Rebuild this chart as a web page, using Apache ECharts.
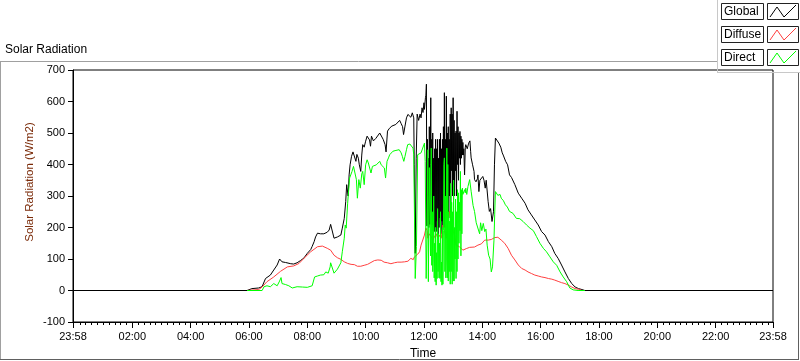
<!DOCTYPE html>
<html><head><meta charset="utf-8">
<script src="https://cdn.jsdelivr.net/npm/echarts@6/dist/echarts.min.js"></script>
<style>html,body{margin:0;padding:0;background:#fff}#c{width:800px;height:361px}</style>
</head><body><div id="c"></div>
<script>
// ---- data (time in minutes since midnight; -2 = 23:58 previous day) ----
const xTickLabelValues = [-2,120,240,360,480,600,720,840,960,1080,1200,1320,1438];
const yTicks = [-100,0,100,200,300,400,500,600,700];
const seriesNames = ['Global','Diffuse','Direct'];

const globalTimes = [-2,356,366,380,387,394,397,404,411,418,423,425,428,435,446,452,459,466,473,480,487,490,494,497,501,507,511,514,518,521,525,528,535,539,542,546,549,552,556,559,561,564,566,568,571,574,578,580,582,585,587,590,592,594,597,600,603,605,608,610,612,616,621,625,629,632,636,640,642,645,649,654,658,662,666,670,673,676,678,681,684,687,690,693,696,699,700,702,704,706,709,712,714,716,718,720,721,723,
724,725,726,727,728,729,730,731,732,733,734,735,736,737,738,739,740,741,742,743,744,745,746,747,748,749,750,751,752,753,754,755,756,757,758,759,760,761,762,763,764,765,766,767,768,769,770,771,772,773,774,775,776,777,778,779,780,781,782,783,784,785,786,787,788,789,790,791,792,793,794,795,796,797,798,799,800,
801,802,803.5,805,806,809,812,814.5,816,817,820,823,824,827,830,831,833,835,838,841,843.5,846,848,852,854.5,857,860,863,865,867,870,874,878,881,883,888,892,896,900,907,914,921,928,934,941,948,955,962,969,976,983,989,996,1003,1010,1017,1024,1031,1038,1045,1051,1438];
const globalValues = [0,0,6,8,12,38,42,49,65,81,100,103,91,89,85,84,88,95,103,118,130,140,155,170,182,180,185,180,176,185,192,210,166,163,170,166,176,198,229,282,336,300,367,399,426,440,441,410,432,420,399,378,430,463,455,474,490,485,478,458,490,475,483,480,500,495,480,463,440,506,515,522,520,527,532,540,530,520,495,522,548,559,564,550,564,548,399,118,420,560,540,560,548,580,565,596,575,612,
620,655,205,480,300,420,200,520,210,400,612,250,480,208,500,190,420,187,450,200,480,187,450,220,480,176,420,200,480,230,500,180,450,220,480,200,520,210,628,200,480,230,617,230,500,300,520,230,480,300,560,250,580,380,560,300,612,350,540,300,500,380,506,300,569,400,520,350,500,420,505,400,490,420,480,430,470,
430,450,367,455,463,450,468,475,442,421,399,378,352,345,355,367,314,350,345,362,350,325,350,282,251,260,219,250,399,484,480,468,455,437,430,410,399,367,359,336,309,293,277,256,240,224,208,187,176,155,139,118,102,81,59,38,22,11,6,3,0,0];

const diffuseTimes = [356,380,387,397,411,425,439,452,463,473,487,501,511,521,528,535,542,549,556,563,570,577,583,590,597,604,611,618,625,632,638,645,652,659,666,673,680,687,693,698,700,704,707,711,714,717,721,724,726.5,728,731,735,738,741.5,745,748.5,752,755.5,759,762,765.5,769,772.5,774.5,776,779.5,783,786,790,793,796.5,800,803.5,807,810.5,814,817,824,831,838,845,852,858.5,865.5,872,879,886,893,900,907,914,921,928,934,941,948,955,962,969,976,983,989,996,1003,1010,1017,1024,1031,1038,1045];
const diffuseValues = [0,3,11,28,43,61,75,78,86,102,123,139,141,134,128,112,104,99,91,86,83,82,77,77,80,83,89,95,97,96,90,88,85,88,90,90,91,93,102,98,106,104,115,123,144,150,176,198,190,166,180,170,160,163,180,166,175,166,208,190,166,219,251,235,208,190,176,144,148,139,134,128,125,133,139,137,139,138,144,148,160,160,162,168,169,160,150,134,112,97,81,70,65,59,54,49,46,43,41,38,36,33,29,25,22,17,11,6,4,0];

const directTimes = [356,387,391,394,397,404,411,418,423,426,428,435,442,449,459,470,480,490,495,501,507,514,518,523,527,528,532,535,539,542,546,549,552,556,558,560,563,565,567,570,572,575,578,581,583,586,589,592,594,597,600,603,605.5,608,611,614,618,622,626,629,632,636,638.5,641,644,647,649.5,652,656,660.5,664.5,669,673,675.5,678.5,681,684,686.5,691,695,697.5,699,702,704.5,707,711,714,717.5,721,722.5,724.5,726.5,728,729,731,733.5,735,736,
737,738,739,740,741,742,743,744,745,746,747,748,749,750,751,752,753,754,755,756,757,758,759,760,761,762,763,764,765,766,767,768,769,770,771,772,773,774,775,776,777,778,779,780,781,782,783,784,785,786,787,788,789,790,791,792,793,794,795,796,797,798,799,800,
803.5,805,806,808,810.5,814,817,821,824,827.5,831,834.5,836.5,839,842,845,847.5,850,853,856,858.5,861,864,865.5,867,869.5,872,876.5,879,883.5,887.5,891.5,896,900,903,907,910,917,924,931,938,945,951.5,958.5,965.5,972,979,986,993,1000,1006.5,1013.5,1020,1027,1037,1051];
const directValues = [0,0,12,15,15,12,22,15,30,41,22,19,15,8,12,11,10,15,43,46,49,50,59,55,75,88,86,55,55,68,70,88,123,166,208,198,277,280,357,362,378,394,399,352,293,352,325,370,378,336,399,415,405,399,373,394,394,399,399,410,399,399,389,357,410,421,431,436,442,444,447,447,437,426,410,426,447,463,465,463,452,431,38,140,431,436,437,440,468,410,38,200,447,28,390,110,452,80,
250,60,100,300,40,150,28,200,17,120,38,260,60,180,40,150,38,250,28,90,17,200,20,190,399,421,60,300,40,100,452,40,400,30,250,60,220,20,340,60,280,20,250,30,350,30,200,100,290,38,250,60,320,100,310,150,280,190,378,110,320,180,325,305,
320,310,325,305,330,352,315,270,251,215,213,180,215,190,213,187,195,144,112,100,59,75,160,240,314,310,302,305,293,285,272,265,251,251,245,251,229,228,219,208,198,190,171,150,134,123,107,91,80,59,43,28,8,2,0,0];

const seriesColors = ['#000000','#ff4040','#00ff00'];

function pairs(ts, vs){ return ts.map((t,i)=>[t, vs[i]]); }
function fmtTime(v){
  let m = ((Math.round(v) % 1440) + 1440) % 1440;
  const h = Math.floor(m/60), mm = m%60;
  return String(h).padStart(2,'0') + ':' + String(mm).padStart(2,'0');
}
const minorTickValues = [];
for (let v = 12; v < 1438; v += 12) { if (v % 120 !== 0) minorTickValues.push(v); }

const FONT = 'Liberation Sans';
const chart = echarts.init(document.getElementById('c'), null, {renderer:'canvas'});

function legendItem(i, y){
  const els = [];
  els.push({type:'rect', shape:{x:721.5,y:y+0.5,width:42,height:16}, style:{fill:'#ffffff', stroke:'#222', lineWidth:1}, z:10});
  els.push({type:'text', style:{x:724, y:y+9, text:seriesNames[i], font:'12px '+FONT, fill:'#000', verticalAlign:'middle'}, z:11});
  els.push({type:'rect', shape:{x:767.5,y:y+0.5,width:31,height:16}, style:{fill:'#ffffff', stroke:'#222', lineWidth:1}, z:10});
  els.push({type:'polyline', shape:{points:[[770,y+14],[777,y+4],[784,y+14],[796,y+2]]}, style:{stroke:seriesColors[i], lineWidth:1, fill:null}, z:11});
  return els;
}

const graphics = [
  {type:'line', shape:{x1:0, y1:61.5, x2:717, y2:61.5}, style:{stroke:'#a0a0a0', lineWidth:1}},
  {type:'line', shape:{x1:0.5, y1:61, x2:0.5, y2:360}, style:{stroke:'#a0a0a0', lineWidth:1}},
  {type:'line', shape:{x1:0, y1:359.5, x2:799, y2:359.5}, style:{stroke:'#606060', lineWidth:1}},
  {type:'line', shape:{x1:798.5, y1:72, x2:798.5, y2:360}, style:{stroke:'#606060', lineWidth:1}},
  {type:'line', shape:{x1:717.5, y1:0, x2:717.5, y2:72}, style:{stroke:'#c8c8c8', lineWidth:1}},
  {type:'line', shape:{x1:717, y1:72.5, x2:800, y2:72.5}, style:{stroke:'#c8c8c8', lineWidth:1}},
  {type:'text', style:{x:5, y:50, text:'Solar Radiation', font:'12px '+FONT, fill:'#000', verticalAlign:'middle'}},
  {type:'text', rotation:Math.PI/2, x:30, y:182, style:{x:0, y:0, text:'Solar Radiation (W/m2)', font:'11.5px '+FONT, fill:'#7a2a08', align:'center', verticalAlign:'middle'}},
].concat(legendItem(0,3), legendItem(1,26), legendItem(2,49));

chart.setOption({
  animation:false,
  backgroundColor:'#ffffff',
  textStyle:{fontFamily:FONT},
  grid:{left:73, top:70, right:27, bottom:39, outerBoundsMode:'none', containLabel:false, show:true, borderColor:'#000', borderWidth:1, backgroundColor:'#fff'},
  xAxis:[{
    type:'value', min:-2, max:1438, position:'bottom',
    name:'Time', nameLocation:'middle', nameGap:26, nameTextStyle:{color:'#000', fontSize:12, fontFamily:FONT},
    axisLine:{show:true, onZero:false, lineStyle:{color:'#000'}},
    axisTick:{show:true, length:6, inside:false, lineStyle:{color:'#000', width:1}, customValues:xTickLabelValues},
    axisLabel:{show:true, customValues:xTickLabelValues, formatter:fmtTime, color:'#000', fontSize:11, fontFamily:FONT, margin:9, showMinLabel:true, showMaxLabel:true},
    splitLine:{show:false}
  },{
    type:'value', min:-2, max:1438, position:'bottom', offset:0,
    axisLine:{show:false, onZero:false},
    axisTick:{show:true, length:3, inside:false, lineStyle:{color:'#000', width:1}, customValues:minorTickValues},
    axisLabel:{show:false},
    splitLine:{show:false}
  }],
  yAxis:{
    type:'value', min:-100, max:700, interval:100,
    axisLine:{show:true, onZero:false, lineStyle:{color:'#000'}},
    axisTick:{show:true, length:5, lineStyle:{color:'#000'}},
    axisLabel:{color:'#000', fontSize:11, fontFamily:FONT, margin:8},
    splitLine:{show:false}
  },
  graphic:graphics,
  series:[
    {name:seriesNames[0], type:'line', data:pairs(globalTimes, globalValues), showSymbol:false, symbol:'none', lineStyle:{color:seriesColors[0], width:1}, itemStyle:{color:seriesColors[0]}, z:2},
    {name:seriesNames[1], type:'line', data:pairs(diffuseTimes, diffuseValues), showSymbol:false, symbol:'none', lineStyle:{color:seriesColors[1], width:1}, itemStyle:{color:seriesColors[1]}, z:3},
    {name:seriesNames[2], type:'line', data:pairs(directTimes, directValues), showSymbol:false, symbol:'none', lineStyle:{color:seriesColors[2], width:1}, itemStyle:{color:seriesColors[2]}, z:4}
  ]
});
</script></body></html>
